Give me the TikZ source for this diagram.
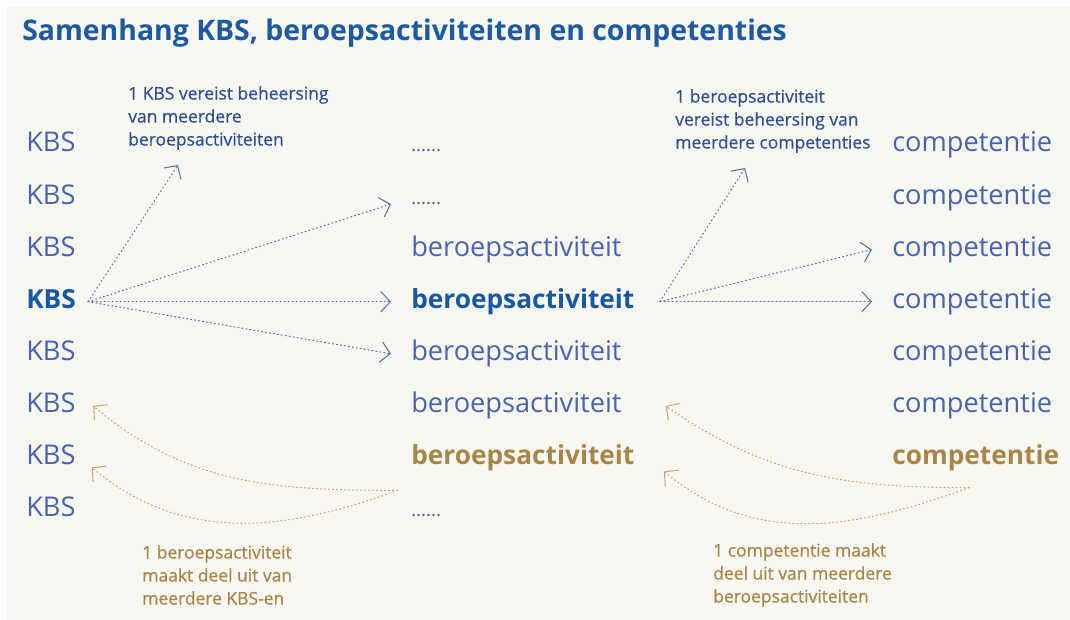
\documentclass[tikz,border=0pt]{standalone}
\usepackage{fontspec}
\setmainfont{Open Sans}
\newfontfamily\notefont{Open Sans}[FakeBold=0.6]
\usepackage{xcolor}
\usepackage{tikz}
\usetikzlibrary{calc}
\usetikzlibrary{positioning}
\usetikzlibrary{arrows.meta}

\definecolor{paper}{RGB}{248,247,242}
\definecolor{titleblue}{RGB}{30,90,160}
\definecolor{itemblue}{RGB}{72,100,175}
\definecolor{boldblue}{RGB}{22,88,165}
\definecolor{noteblue}{RGB}{45,80,150}
\definecolor{gold}{RGB}{168,133,72}
\definecolor{arrowblue}{RGB}{90,115,175}
\definecolor{arrowgold}{RGB}{200,165,100}

\begin{document}
\begin{tikzpicture}[x=0.75pt, y=-0.75pt]

        \def\d{20.7pt}

        % one row of a column, all rows the same height
        \tikzset{
            item/.style={inner sep=0pt, text height=14pt, text depth=4pt,
                anchor=north west, font=\fontsize{20.4}{24}\selectfont,
                text=itemblue},
            itembold/.style={item, font=\fontsize{19.7}{24}\selectfont\bfseries,
                text=boldblue},
            itemgold/.style={itembold, text=gold},
            dotsitem/.style={item, font=\fontsize{14}{16}\selectfont},
            note/.style={inner sep=0pt, anchor=north west, align=left,
                font=\notefont\fontsize{13.1}{17.25}\selectfont, text=noteblue},
            notegold/.style={note, text=gold},
            bluearrow/.style={draw=arrowblue, line width=0.8pt,
                dash pattern=on 0.8pt off 2.2pt, line cap=round,
                -{Straight Barb[length=7pt, width=15pt, line cap=round]}},
            goldarrow/.style={bluearrow, draw=arrowgold}
        }

        \useasboundingbox (0, 0) rectangle (1070, 620);
        \fill[paper] (7, 6) rectangle (1070, 620);

        \node (title) [anchor=base west, inner sep=0pt, text=titleblue,
            font=\fontsize{21.3}{25}\selectfont\bfseries] at (22, 41)
        {Samenhang KBS, beroepsactiviteiten en competenties};

        % KBS column
        \node (K1) [item] at (26, 133) {KBS};
        \node (K2) [below=\d of K1.south west, item] {KBS};
        \node (K3) [below=\d of K2.south west, item] {KBS};
        \node (K4) [below=\d of K3.south west, itembold] {KBS};
        \node (K5) [below=\d of K4.south west, item] {KBS};
        \node (K6) [below=\d of K5.south west, item] {KBS};
        \node (K7) [below=\d of K6.south west, item] {KBS};
        \node (K8) [below=\d of K7.south west, item] {KBS};

        % beroepsactiviteit column
        \node (B1) [dotsitem] at (411, 133) {......};
        \node (B2) [below=\d of B1.south west, dotsitem] {......};
        \node (B3) [below=\d of B2.south west, item] {beroepsactiviteit};
        \node (B4) [below=\d of B3.south west, itembold] {beroepsactiviteit};
        \node (B5) [below=\d of B4.south west, item] {beroepsactiviteit};
        \node (B6) [below=\d of B5.south west, item] {beroepsactiviteit};
        \node (B7) [below=\d of B6.south west, itemgold] {beroepsactiviteit};
        \node (B8) [below=\d of B7.south west, dotsitem] {......};

        % competentie column
        \node (C1) [item] at (892, 133) {competentie};
        \node (C2) [below=\d of C1.south west, item] {competentie};
        \node (C3) [below=\d of C2.south west, item] {competentie};
        \node (C4) [below=\d of C3.south west, item] {competentie};
        \node (C5) [below=\d of C4.south west, item] {competentie};
        \node (C6) [below=\d of C5.south west, item] {competentie};
        \node (C7) [below=\d of C6.south west, itemgold] {competentie};

        % notes
        \node (N1) [note] at (128, 86)
        {1 KBS vereist beheersing\\van meerdere\\beroepsactiviteiten};
        \node (N2) [note] at (675, 89)
        {1 beroepsactiviteit\\vereist beheersing van\\meerdere competenties};
        \node (N3) [notegold] at (142, 545)
        {1 beroepsactiviteit\\maakt deel uit van\\meerdere KBS-en};
        \node (N4) [notegold] at (713, 543)
        {1 competentie maakt\\deel uit van meerdere\\beroepsactiviteiten};

        \coordinate (kt) at (178, 165);
        \coordinate (bt) at (745, 168);

        \begin{scope}
            \draw[bluearrow] ([xshift=9pt]K4.east) -- (kt);
            \draw[bluearrow] ([xshift=9pt]K4.east) -- ([xshift=-15pt]B2.base west);
            \foreach\x in {4, 5}
            \draw[bluearrow] ([xshift=9pt]K4.east) -- ([xshift=-15pt]B\x.west);

            \draw[bluearrow] ([xshift=19pt]B4.east) -- (bt);
            \foreach\x in {3, 4}
            \draw[bluearrow] ([xshift=19pt]B4.east) -- ([xshift=-15pt]C\x.west);

            \draw[goldarrow] ([shift={(-10pt,-15pt)}]B7.south west)
                to[out=180, in=-40] ([xshift=13pt]K6.east);
            \draw[goldarrow] ([shift={(-10pt,-15pt)}]B7.south west)
                to[out=200, in=-40] ([shift={(12pt,-7pt)}]K7.east);

            \draw[goldarrow] ([shift={(-5pt,-13pt)}]C7.south)
                to[out=180, in=-35] ([xshift=33pt]B6.east);
            \draw[goldarrow] ([shift={(-5pt,-13pt)}]C7.south)
                to[out=200, in=-40] ([shift={(22pt,-10pt)}]B7.east);
        \end{scope}

\end{tikzpicture}
\end{document}
